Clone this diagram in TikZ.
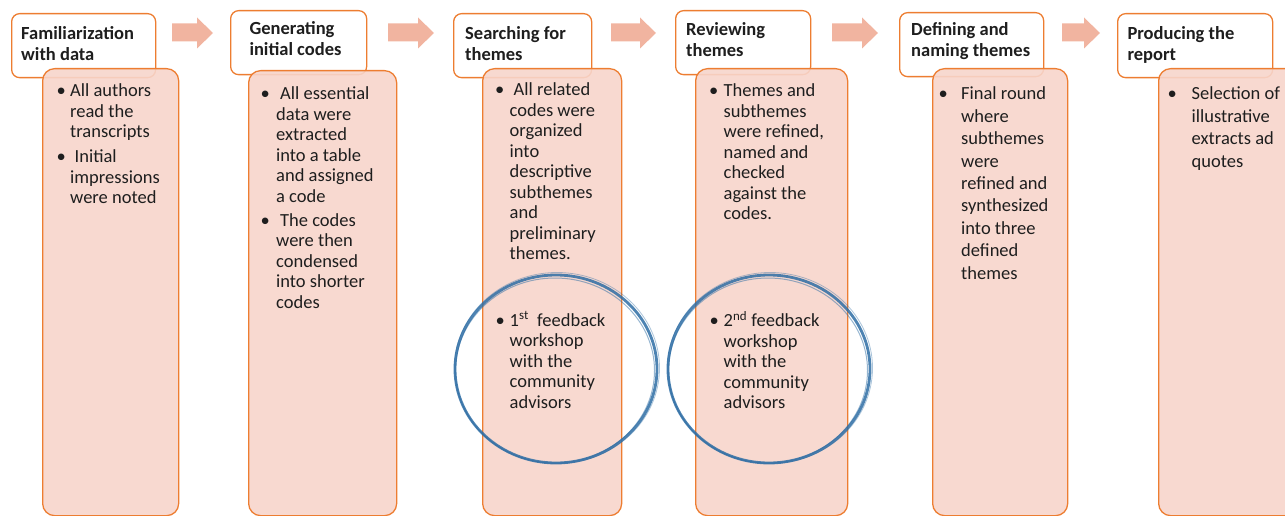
\documentclass[tikz,border=0pt]{standalone}
\usepackage{fontspec}
\setmainfont{Carlito}

\definecolor{accentorange}{RGB}{237,125,49}
\definecolor{bodyfill}{RGB}{247,213,203}
\definecolor{arrowfill}{RGB}{241,180,160}
\definecolor{ringblue}{RGB}{46,109,164}
\definecolor{textgray}{RGB}{30,30,30}

% bullet hung to the left of the text column, #1 = distance from bullet centre to text
\newcommand\hangbullet[1]{\leavevmode\llap{\makebox[0pt][c]{\textbullet}\hspace{#1}}}
% block arrow between two stages: #1 = tail x, #2 = tip x
\newcommand\stagearrow[2]{%
  \fill[arrowfill] (#1,23.5) -- (#2-16,23.5) -- (#2-16,17.5) -- (#2,33)
    -- (#2-16,48.5) -- (#2-16,41.5) -- (#1,41.5) -- cycle;}

\begin{document}
\begin{tikzpicture}[x=1pt,y=-1pt,
  titlebox/.style={draw=accentorange, line width=1.3pt, fill=white,
    rounded corners=8pt, inner sep=0pt, anchor=north west},
  bodybox/.style={draw=accentorange, line width=1.3pt, fill=bodyfill,
    fill opacity=0.9, rounded corners=12pt, inner sep=0pt, anchor=north west},
  titletext/.style={inner sep=0pt, anchor=base west, text=textgray,
    font=\fontsize{18.5}{20.8}\selectfont\bfseries},
  bodytext/.style={inner sep=0pt, anchor=base west, text=textgray,
    font=\fontsize{18.5}{20.5}\selectfont},
  widetext/.style={inner sep=0pt, anchor=base west, text=textgray,
    font=\fontsize{18.5}{22.4}\selectfont},
  ring/.style={draw=ringblue, line cap=round}
]
\useasboundingbox (0,0) rectangle (1285,516);

% ---- stage headings ----
\node[titlebox, minimum width=144pt, minimum height=64pt] (t1) at (11,13) {};
\node[titlebox, minimum width=136pt, minimum height=64pt] (t2) at (230,10) {};
\node[titlebox, minimum width=138pt, minimum height=64pt] (t3) at (453,13) {};
\node[titlebox, minimum width=135pt, minimum height=64pt] (t4) at (675,10) {};
\node[titlebox, minimum width=144pt, minimum height=64pt] (t5) at (899,12) {};
\node[titlebox, minimum width=155pt, minimum height=64pt] (t6) at (1117,13) {};

% ---- arrows between the headings ----
\stagearrow{172}{213}
\stagearrow{388}{434}
\stagearrow{611}{656}
\stagearrow{832}{878}
\stagearrow{1062}{1100}

% ---- description panels ----
\node[bodybox, minimum width=136pt, minimum height=447pt] (b1) at (42,68) {};
\node[bodybox, minimum width=148pt, minimum height=445pt] (b2) at (248,70) {};
\node[bodybox, minimum width=139pt, minimum height=447pt] (b3) at (482,68) {};
\node[bodybox, minimum width=152pt, minimum height=447pt] (b4) at (695,68) {};
\node[bodybox, minimum width=135pt, minimum height=447pt] (b5) at (932,68) {};
\node[bodybox, minimum width=150pt, minimum height=447pt] (b6) at (1158,68) {};

% ---- heading texts ----
\node[titletext] (h1) at (21,39.3) {\parbox[t]{140pt}{Familiarization\\with data}};
\node[titletext] (h2) at (249.3,35) {\parbox[t]{140pt}{Generating\\initial codes}};
\node[titletext] (h3) at (465,39.3) {\parbox[t]{140pt}{Searching for\\themes}};
\node[titletext] (h4) at (686,35.5) {\parbox[t]{140pt}{Reviewing\\themes}};
\node[titletext] (h5) at (911,36) {\parbox[t]{140pt}{Defining and\\naming themes}};
\node[titletext] (h6) at (1127.3,39.3) {\parbox[t]{140pt}{Producing the\\report}};

% ---- panel texts ----
\node[bodytext] (p1) at (70,97) {\parbox[t]{140pt}{\raggedright
  \hangbullet{9pt}All authors\\read the\\transcripts\\[4.5pt]
  \hangbullet{9pt}\hspace*{4.5pt}Initial\\impressions\\were noted}};

\node[bodytext] (p2) at (276,100) {\parbox[t]{140pt}{\raggedright
  \hangbullet{11pt}\hspace*{4pt}All essential\\data were\\extracted\\into a table\\and assigned\\a code\\[3.5pt]
  \hangbullet{11pt}\hspace*{4pt}The codes\\were then\\condensed\\into shorter\\codes}};

\node[bodytext] (p3) at (509.5,96) {\parbox[t]{140pt}{\raggedright
  \hangbullet{10pt}\hspace*{4pt}All related\\codes were\\organized\\into\\descriptive\\subthemes\\and\\preliminary\\themes.}};
\node[bodytext] (q3) at (509.5,326) {\parbox[t]{140pt}{\raggedright
  \hangbullet{9.5pt}1\textsuperscript{st}\ \ feedback\\workshop\\with the\\community\\advisors}};

\node[bodytext] (p4) at (723.5,96.7) {\parbox[t]{140pt}{\raggedright
  \hangbullet{10pt}Themes and\\subthemes\\were refined,\\named and\\checked\\against the\\codes.}};
\node[bodytext] (q4) at (723.5,326.5) {\parbox[t]{140pt}{\raggedright
  \hangbullet{9.5pt}2\textsuperscript{nd} feedback\\workshop\\with the\\community\\advisors}};

\node[widetext] (p5) at (961,100) {\parbox[t]{140pt}{\raggedright
  \hangbullet{18pt}Final round\\where\\subthemes\\were\\refined and\\synthesized\\into three\\defined\\themes}};

\node[widetext] (p6) at (1191.5,100) {\parbox[t]{140pt}{\raggedright
  \hangbullet{19.5pt}Selection of\\illustrative\\extracts ad\\quotes}};

% ---- brush-stroke rings around the feedback workshops ----
\foreach \cx in {556,769} {
  \draw[ring, line width=2.8pt, opacity=0.85] (\cx,369) ellipse [x radius=101pt, y radius=94pt];
  \draw[ring, line width=1pt, opacity=0.5] (\cx-1,370.5) ellipse [x radius=99.5pt, y radius=92.5pt];
  \draw[ring, line width=0.8pt, opacity=0.4] (\cx+1,368) ellipse [x radius=102.5pt, y radius=95.5pt];
}
\end{tikzpicture}
\end{document}
